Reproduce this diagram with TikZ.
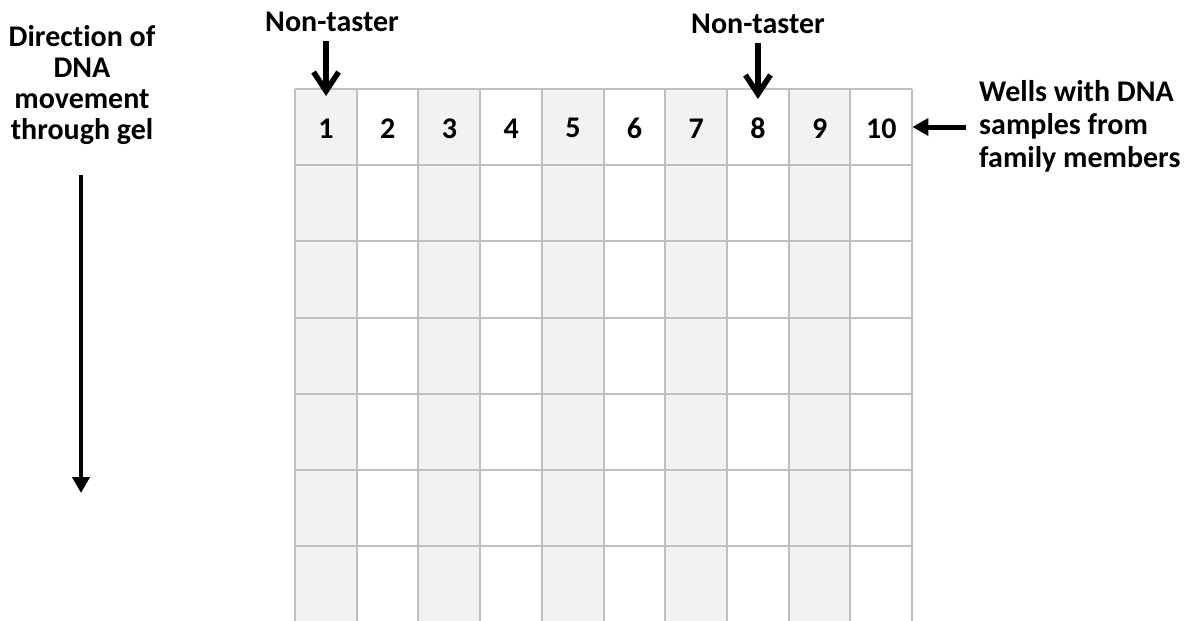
\documentclass[tikz,border=0pt]{standalone}
\usepackage{fontspec}
\setmainfont{Carlito}[Ligatures=NoCommon]
\usetikzlibrary{arrows.meta,positioning}
\definecolor{gridgray}{HTML}{BFBFBF}
\definecolor{lanegray}{HTML}{F2F2F2}

\begin{document}
\begin{tikzpicture}[x=1pt, y=-1pt,
    lbl/.style={font=\fontsize{30}{31}\selectfont\bfseries, inner sep=0pt},
    wellcell/.style={minimum width=61.7pt, minimum height=76.2pt, inner sep=0pt,
        anchor=north west, font=\fontsize{30}{31}\selectfont\bfseries},
    gridline/.style={draw=gridgray, line width=2pt},
    barbarrow/.style={line width=5.5pt, -{Straight Barb[length=19pt, width=25pt]}},
    solidarrow/.style={line width=#1, -{Triangle[length=16pt, width=17pt]}}]
    \useasboundingbox (0,0) rectangle (1189,621);
    % gel lanes, odd ones shaded
    \foreach \i in {1,3,5,7,9}
        \fill[lanegray] (295+61.7*\i-61.7, 89) rectangle ++(61.7, 532);
    \foreach \i in {0,...,10}
        \draw[gridline] (295+61.7*\i, 89) -- ++(0, 532);
    \foreach \j in {0,...,6}
        \draw[gridline] (295, 89+76.2*\j) -- ++(617, 0);
    % wells
    \foreach \i in {1,...,10}
        \node[wellcell] (c\i) at (295+61.7*\i-61.7, 90) {\i};

    \node[lbl, anchor=base] (nt1) at (332,31) {Non-taster};
    \node[lbl, anchor=base] (nt8) at (758,34) {Non-taster};
    \draw[barbarrow] ([yshift=-10pt]nt1.south -| c1.north) -- ([yshift=-6pt]c1.north);
    \draw[barbarrow] ([yshift=-9pt]nt8.south -| c8.north) -- ([yshift=-9pt]c8.north);

    \node[lbl, align=center, anchor=north] (dir) at (82,25)
        {Direction of\\DNA\\movement\\through gel};
    \coordinate (flowend) at (81,493);
    \draw[solidarrow=4pt] ([yshift=-30pt]dir.south -| flowend) -- (flowend);

    \node[lbl, font=\fontsize{30}{33}\selectfont\bfseries, align=left, anchor=north west]
        (wells) at (979,80) {Wells with DNA\\samples from\\family members};
    \coordinate (wellstail) at (966,127);
    \draw[solidarrow=5pt] (wellstail) -- (c10.east |- wellstail);
\end{tikzpicture}
\end{document}
